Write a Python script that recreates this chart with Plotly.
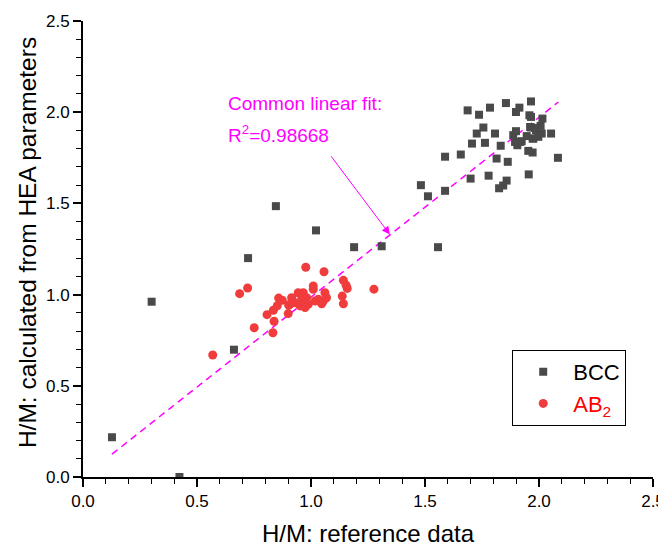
import plotly.graph_objects as go

# ---- data ----
bcc_x = [0.127, 0.301, 0.423, 0.662, 0.724, 0.846, 1.022, 1.189, 1.310, 1.557, 1.482, 1.513, 1.588,
         1.687, 1.737, 1.785, 1.855, 1.914, 1.899, 1.965, 1.958, 1.965, 2.015,
         1.756, 1.727, 1.807, 1.706, 1.763, 1.832, 1.887, 1.899, 1.965, 2.007, 1.987, 2.012, 2.053,
         1.946, 1.972, 1.997, 1.895, 1.917, 1.905, 1.588, 1.657, 1.814, 1.863, 1.953, 1.972, 2.083,
         1.700, 1.779, 1.858, 1.843, 1.825, 1.955, 1.961, 1.982, 1.924, 1.975]
bcc_y = [0.218, 0.961, 0.000, 0.698, 1.200, 1.485, 1.352, 1.260, 1.265, 1.260, 1.600, 1.539, 1.569,
         2.010, 1.986, 2.025, 2.050, 2.025, 2.001, 2.059, 1.983, 1.974, 1.965,
         1.916, 1.883, 1.883, 1.828, 1.832, 1.816, 1.874, 1.896, 1.916, 1.925, 1.901, 1.883, 1.883,
         1.869, 1.856, 1.865, 1.837, 1.837, 1.819, 1.756, 1.768, 1.746, 1.728, 1.788, 1.779, 1.750,
         1.636, 1.652, 1.625, 1.598, 1.583, 1.659, 1.919, 1.914, 1.841, 1.855]

ab2_x = [0.569, 0.687, 0.722, 0.751, 0.807, 0.835, 0.852, 0.858, 0.874, 0.838, 0.833, 0.902, 0.900,
         0.977, 1.057, 0.915, 0.944, 0.966, 0.930, 0.959, 0.981, 0.988, 1.010, 1.010, 1.018, 0.908,
         0.952, 0.974, 1.032, 1.054, 1.061, 1.068, 1.047, 1.142, 1.154, 1.159, 1.137, 1.142, 1.276]
ab2_y = [0.669, 1.005, 1.036, 0.818, 0.890, 0.914, 0.939, 0.981, 0.969, 0.854, 0.791, 0.942, 0.896,
         1.150, 1.125, 0.983, 1.010, 1.010, 0.956, 0.974, 0.983, 0.947, 1.029, 1.047, 0.965, 0.947,
         0.938, 0.929, 0.974, 0.965, 1.010, 0.983, 0.950, 1.078, 1.051, 1.034, 0.992, 0.950, 1.030]

fit_slope = 0.986
fit_intercept = 0.0
fit_x = [0.127, 2.085]
fit_y = [fit_slope * v + fit_intercept for v in fit_x]

r2_text = "0.98668"
arrow_tail = (1.083, 1.767)
arrow_head = (1.346, 1.329)

FONT = "Liberation Sans, Arial, sans-serif"
MAG = "#ff00ff"

fig = go.Figure()
fig.add_trace(go.Scatter(x=fit_x, y=fit_y, mode="lines", showlegend=False,
                         line=dict(color=MAG, width=1.5, dash="7px,5px"), hoverinfo="skip"))
fig.add_trace(go.Scatter(x=bcc_x, y=bcc_y, mode="markers", name="BCC",
                         marker=dict(symbol="square", size=8, color="#4a4a4a")))
fig.add_trace(go.Scatter(x=ab2_x, y=ab2_y, mode="markers",
                         name="<span style='color:#ff0000'>AB<sub>2</sub></span>",
                         marker=dict(symbol="circle", size=9, color="#f03c3c")))

fig.add_annotation(x=0.627, y=2.045, xref="x", yref="y", text="Common linear fit:",
                   showarrow=False, xanchor="left", yanchor="middle",
                   font=dict(family=FONT, size=19, color=MAG))
fig.add_annotation(x=0.627, y=1.880, xref="x", yref="y", text="R<sup>2</sup>=" + r2_text,
                   showarrow=False, xanchor="left", yanchor="middle",
                   font=dict(family=FONT, size=19, color=MAG))
fig.add_annotation(x=arrow_head[0], y=arrow_head[1], ax=arrow_tail[0], ay=arrow_tail[1],
                   xref="x", yref="y", axref="x", ayref="y", text="", showarrow=True,
                   arrowhead=2, arrowsize=1.6, arrowwidth=1, arrowcolor=MAG)

# y-axis title placed as rotated text
fig.add_annotation(x=0, y=0.513, xref="paper", yref="paper", xshift=-56,
                   text="H/M: calculated from HEA parameters", textangle=-90,
                   showarrow=False, xanchor="center", yanchor="middle",
                   font=dict(family=FONT, size=24.5, color="black"))

axis_common = dict(range=[0, 2.5], dtick=0.5, tick0=0, tickformat=".1f",
                   showgrid=False, zeroline=False, showline=True, linecolor="black", linewidth=2,
                   ticks="outside", ticklen=8, tickwidth=1.5, tickcolor="black",
                   tickfont=dict(family=FONT, size=17, color="black"),
                   minor=dict(dtick=0.1, ticks="outside", ticklen=5, tickwidth=1, tickcolor="black"),
                   mirror=False, automargin=False, ticklabeloverflow="allow")

fig.update_xaxes(**axis_common, title=dict(text="H/M: reference data",
                 font=dict(family=FONT, size=24, color="black"), standoff=20))
fig.update_yaxes(**axis_common)

# page body adds an 8px offset; figure is sized so the plot lands where the reference has it
fig.update_layout(width=666, height=539, plot_bgcolor="white", paper_bgcolor="white",
                  margin=dict(l=75, r=21, t=13, b=70),
                  font=dict(family=FONT),
                  legend=dict(x=0.753, y=0.2785, xanchor="left", yanchor="top",
                              bgcolor="white", bordercolor="black", borderwidth=1,
                              font=dict(family=FONT, size=22, color="black"),
                              itemwidth=50, tracegroupgap=0))

fig.write_html("out.html")
